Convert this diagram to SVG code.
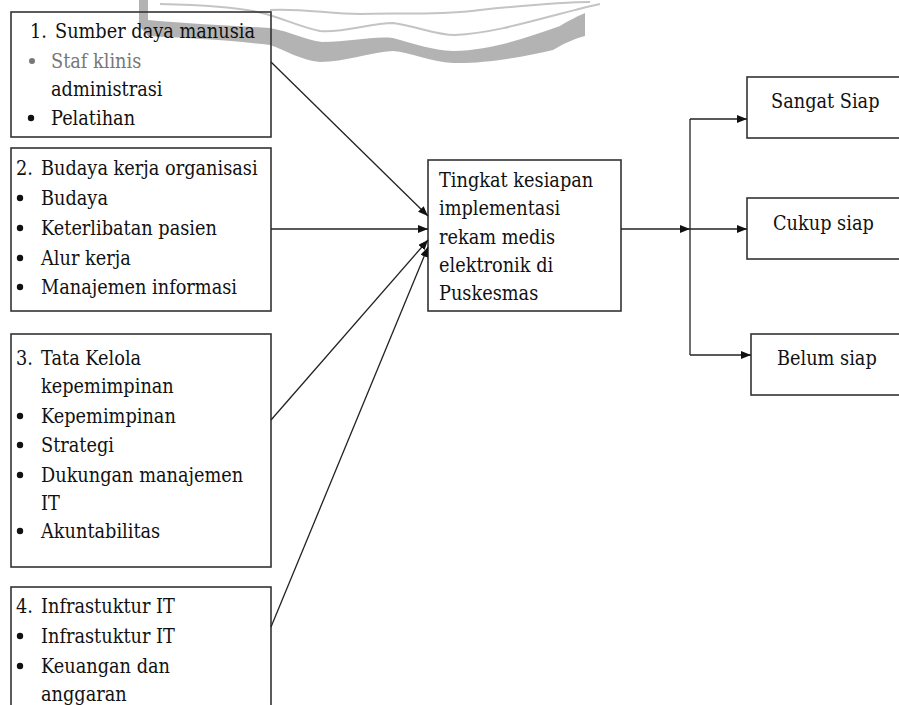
<svg xmlns="http://www.w3.org/2000/svg" width="899" height="705" viewBox="0 0 899 705">
<defs>
<style>
.box{fill:none;stroke:#333;stroke-width:1.6}
.t{font-family:'DejaVu Serif','Liberation Serif',serif;font-size:20px;fill:#111}
.g{fill:#777}
.b{fill:#111}
.ln{stroke:#222;stroke-width:1.3;fill:none}
.wm{fill:#b3b3b3}
.wml{stroke:#c4c4c4;stroke-width:2;fill:none}
</style>
<marker id="ah" viewBox="0 0 10 8" refX="10" refY="4" markerWidth="10" markerHeight="8" markerUnits="userSpaceOnUse" orient="auto">
<path d="M0,0 L10,4 L0,8 Z" fill="#111"/>
</marker>
</defs>
<rect width="899" height="705" fill="#fff"/>

<g id="watermark">
<path class="wm" d="M139,0 L148,0 L148,20 C190,24 240,26 270,28 C292,32 305,40 322,42 C350,42 372,36 393,38 C415,44 432,50 453,51 C495,50 530,36 560,26 C570,20 578,16 585,13 L585,36 C570,40 560,46 553,50 C520,58 480,64 453,63 C430,62 410,52 393,51 C370,52 345,62 320,62 C300,60 285,50 270,45 C230,40 185,38 148,36 L139,26 Z"/>
<path class="wml" d="M160,4 C200,5 240,7 262,13 C285,19 300,27 320,31 C345,33 370,23 393,23 C420,27 435,35 455,35 C500,33 550,15 600,4"/>
<path class="wml" d="M270,10 C300,8 330,14 360,14 C400,12 440,16 480,10 C520,6 560,2 590,2"/>
</g>

<g id="node1">
<rect class="box" x="11" y="12" width="260" height="125"/>
<text class="t" transform="matrix(0.887 0 0 1 30 38)">1.</text>
<text class="t" transform="matrix(0.887 0 0 1 55 38)">Sumber daya manusia</text>
<circle class="g" cx="32" cy="61" r="3"/>
<text class="t g" transform="matrix(0.887 0 0 1 51 68)">Staf klinis</text>
<text class="t" transform="matrix(0.887 0 0 1 51 96)">administrasi</text>
<circle class="b" cx="31" cy="118" r="3.2"/>
<text class="t" transform="matrix(0.887 0 0 1 51 125)">Pelatihan</text>
</g>

<g id="node2">
<rect class="box" x="11" y="148" width="260" height="163"/>
<text class="t" transform="matrix(0.887 0 0 1 16 175)">2.</text>
<text class="t" transform="matrix(0.887 0 0 1 41 175)">Budaya kerja organisasi</text>
<circle class="b" cx="20" cy="198" r="3.2"/>
<text class="t" transform="matrix(0.887 0 0 1 41 205)">Budaya</text>
<circle class="b" cx="20" cy="228" r="3.2"/>
<text class="t" transform="matrix(0.887 0 0 1 41 235)">Keterlibatan pasien</text>
<circle class="b" cx="20" cy="258" r="3.2"/>
<text class="t" transform="matrix(0.887 0 0 1 41 265)">Alur kerja</text>
<circle class="b" cx="20" cy="287" r="3.2"/>
<text class="t" transform="matrix(0.887 0 0 1 41 294)">Manajemen informasi</text>
</g>

<g id="node3">
<rect class="box" x="11" y="334" width="260" height="233"/>
<text class="t" transform="matrix(0.887 0 0 1 16 365)">3.</text>
<text class="t" transform="matrix(0.887 0 0 1 41 365)">Tata Kelola</text>
<text class="t" transform="matrix(0.887 0 0 1 41 393)">kepemimpinan</text>
<circle class="b" cx="20" cy="416" r="3.2"/>
<text class="t" transform="matrix(0.887 0 0 1 41 423)">Kepemimpinan</text>
<circle class="b" cx="20" cy="445" r="3.2"/>
<text class="t" transform="matrix(0.887 0 0 1 41 452)">Strategi</text>
<circle class="b" cx="20" cy="475" r="3.2"/>
<text class="t" transform="matrix(0.887 0 0 1 41 482)">Dukungan manajemen</text>
<text class="t" transform="matrix(0.887 0 0 1 41 510)">IT</text>
<circle class="b" cx="20" cy="531" r="3.2"/>
<text class="t" transform="matrix(0.887 0 0 1 41 538)">Akuntabilitas</text>
</g>

<g id="node4">
<rect class="box" x="11" y="587" width="260" height="130"/>
<text class="t" transform="matrix(0.887 0 0 1 16 613)">4.</text>
<text class="t" transform="matrix(0.887 0 0 1 41 613)">Infrastuktur IT</text>
<circle class="b" cx="20" cy="636" r="3.2"/>
<text class="t" transform="matrix(0.887 0 0 1 41 643)">Infrastuktur IT</text>
<circle class="b" cx="20" cy="666" r="3.2"/>
<text class="t" transform="matrix(0.887 0 0 1 41 673)">Keuangan dan</text>
<text class="t" transform="matrix(0.887 0 0 1 41 701)">anggaran</text>
</g>

<g id="center">
<rect class="box" x="428" y="160" width="193" height="151"/>
<text class="t" transform="matrix(0.887 0 0 1 439 187)">Tingkat kesiapan</text>
<text class="t" transform="matrix(0.887 0 0 1 439 215)">implementasi</text>
<text class="t" transform="matrix(0.887 0 0 1 439 244)">rekam medis</text>
<text class="t" transform="matrix(0.887 0 0 1 439 272)">elektronik di</text>
<text class="t" transform="matrix(0.887 0 0 1 439 300)">Puskesmas</text>
</g>

<g id="out1">
<rect class="box" x="747" y="77" width="170" height="61"/>
<text class="t" transform="matrix(0.887 0 0 1 771 108)">Sangat Siap</text>
</g>
<g id="out2">
<rect class="box" x="747" y="198" width="170" height="61"/>
<text class="t" transform="matrix(0.887 0 0 1 773 230)">Cukup siap</text>
</g>
<g id="out3">
<rect class="box" x="751" y="334" width="170" height="61"/>
<text class="t" transform="matrix(0.887 0 0 1 777 365)">Belum siap</text>
</g>

<g id="connectors">
<line class="ln" x1="271" y1="62" x2="428" y2="216" marker-end="url(#ah)"/>
<line class="ln" x1="271" y1="229" x2="428" y2="229" marker-end="url(#ah)"/>
<line class="ln" x1="271" y1="420" x2="428" y2="240" marker-end="url(#ah)"/>
<line class="ln" x1="271" y1="627" x2="428" y2="247" marker-end="url(#ah)"/>
<line class="ln" x1="621" y1="229" x2="690" y2="229" marker-end="url(#ah)"/>
<line class="ln" x1="690" y1="119" x2="690" y2="355"/>
<line class="ln" x1="690" y1="119" x2="747" y2="119" marker-end="url(#ah)"/>
<line class="ln" x1="690" y1="229" x2="747" y2="229" marker-end="url(#ah)"/>
<line class="ln" x1="690" y1="355" x2="751" y2="355" marker-end="url(#ah)"/>
</g>
</svg>
